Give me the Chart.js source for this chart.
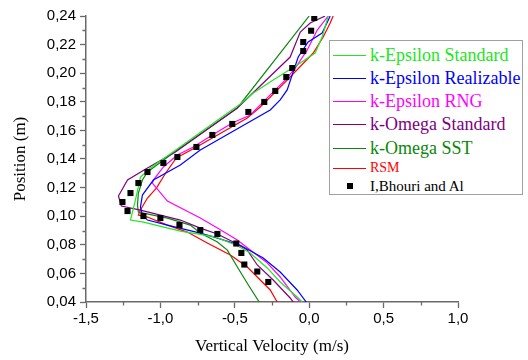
<!DOCTYPE html>
<html>
<head>
<meta charset="utf-8">
<script src="https://cdn.jsdelivr.net/npm/chart.js@4.4.0/dist/chart.umd.min.js"></script>
<style>
  html, body { margin: 0; padding: 0; background: #fff; }
  #wrap { position: relative; width: 528px; height: 360px; }
  #legend {
    position: absolute; left: 329px; top: 40px; width: 194px; height: 155px;
    box-sizing: border-box; border: 1px solid #a0a0a0; background: #fff;
    font-family: "Liberation Serif", "Times New Roman", serif; overflow: hidden;
  }
  .row { position: absolute; left: 0; display: flex; align-items: center; white-space: nowrap; }
  .swatch { width: 33px; margin: 0 4px 0 3px; border-top: 1px solid; }
  .mark { width: 33px; margin: 0 4px 0 3px; display: flex; justify-content: center; }
  .mark i { display: block; width: 6px; height: 6px; background: #000; }
</style>
</head>
<body>
<div id="wrap">
  <canvas id="chart" width="528" height="360"></canvas>
  <div id="legend"></div>
</div>
<script>
// tick labels
const xTicks = [-1.5, -1.0, -0.5, 0.0, 0.5, 1.0];
const yTicks = [0.04, 0.06, 0.08, 0.10, 0.12, 0.14, 0.16, 0.18, 0.20, 0.22, 0.24];

// series: [vertical velocity (m/s), position (m)]
const kEpsilonStandard = [
  [0.128, 0.240], [0.087, 0.2253], [0.040, 0.2141], [-0.060, 0.2071], [-0.242, 0.1952],
  [-0.376, 0.1862], [-0.463, 0.1785], [-1.067, 0.1337], [-1.134, 0.1274], [-1.168, 0.1113],
  [-1.201, 0.0973], [-1.114, 0.0959], [-0.866, 0.0896], [-0.631, 0.0855], [-0.490, 0.0797],
  [-0.396, 0.0743], [-0.282, 0.0638], [-0.195, 0.0540], [-0.081, 0.0435], [-0.047, 0.0400]
];
const kEpsilonRealizable = [
  [0.141, 0.240], [0.087, 0.2281], [-0.007, 0.2218], [-0.074, 0.2113], [-0.148, 0.1883],
  [-0.195, 0.1813], [-0.262, 0.1743], [-0.732, 0.1463], [-0.866, 0.1358], [-1.047, 0.1253],
  [-1.121, 0.1148], [-1.134, 0.1064], [-1.121, 0.1008], [-1.087, 0.0973], [-0.953, 0.0938],
  [-0.732, 0.0882], [-0.644, 0.0855], [-0.463, 0.0797], [-0.309, 0.0708], [-0.195, 0.0610],
  [-0.081, 0.0484], [-0.020, 0.0400]
];
const kEpsilonRNG = [
  [0.128, 0.240], [0.054, 0.2302], [-0.013, 0.2162], [-0.094, 0.2036], [-0.161, 0.1952],
  [-0.262, 0.1848], [-0.349, 0.1757], [-0.396, 0.1708], [-0.517, 0.1652], [-0.651, 0.1568],
  [-0.779, 0.1484], [-0.886, 0.1428], [-0.980, 0.1344], [-1.047, 0.1253], [-1.054, 0.1232],
  [-0.953, 0.1106], [-0.732, 0.0987], [-0.617, 0.0917], [-0.483, 0.0834], [-0.416, 0.0780],
  [-0.289, 0.0680], [-0.195, 0.0575], [-0.094, 0.0435], [-0.060, 0.0400]
];
const kOmegaStandard = [
  [0.107, 0.240], [0.007, 0.2351], [-0.060, 0.2288], [-0.128, 0.2113], [-0.483, 0.1757],
  [-0.899, 0.1449], [-1.087, 0.1337], [-1.221, 0.1253], [-1.282, 0.1141], [-1.262, 0.1071],
  [-1.134, 0.1043], [-0.866, 0.0973], [-0.732, 0.0917], [-0.617, 0.0876], [-0.510, 0.0820],
  [-0.416, 0.0763], [-0.349, 0.0659], [-0.242, 0.0554], [-0.128, 0.0428], [-0.107, 0.0400]
];
const kOmegaSST = [
  [0.000, 0.240], [-0.483, 0.1757], [-0.933, 0.1428], [-1.087, 0.1309], [-1.121, 0.1253],
  [-1.148, 0.1162], [-1.154, 0.1078], [-1.148, 0.1029], [-1.114, 0.1022], [-0.953, 0.0987],
  [-0.799, 0.0938], [-0.732, 0.0882], [-0.617, 0.0820], [-0.550, 0.0763], [-0.483, 0.0645],
  [-0.409, 0.0519], [-0.336, 0.0400]
];
const rsm = [
  [0.161, 0.240], [0.141, 0.2351], [0.094, 0.2253], [0.027, 0.2141], [-0.148, 0.1952],
  [-0.329, 0.1764], [-0.416, 0.1687], [-0.745, 0.1491], [-0.893, 0.1407], [-0.960, 0.1309],
  [-1.027, 0.1197], [-1.087, 0.1127], [-1.134, 0.1043], [-1.148, 0.1008], [-1.087, 0.0994],
  [-0.953, 0.0938], [-0.819, 0.0889], [-0.685, 0.0813], [-0.530, 0.0729], [-0.416, 0.0645],
  [-0.329, 0.0554], [-0.262, 0.0484], [-0.215, 0.0400]
];
const bhouri = [
  [0.034, 0.2386], [0.013, 0.2297], [-0.040, 0.2218], [-0.040, 0.2155], [-0.114, 0.2036],
  [-0.154, 0.1973], [-0.228, 0.1876], [-0.302, 0.1799], [-0.409, 0.1729], [-0.517, 0.1645],
  [-0.651, 0.1568], [-0.758, 0.1484], [-0.886, 0.1414], [-0.980, 0.1372], [-1.087, 0.1309],
  [-1.148, 0.1232], [-1.201, 0.1162], [-1.255, 0.1099], [-1.221, 0.1036], [-1.114, 0.1001],
  [-1.000, 0.0987], [-0.872, 0.0938], [-0.732, 0.0903], [-0.617, 0.0876], [-0.490, 0.0809],
  [-0.456, 0.0743], [-0.436, 0.0662], [-0.349, 0.0613], [-0.275, 0.0540]
];

const AXIS = '#6a6a6a';
const SERIF = '"Liberation Serif", "Times New Roman", serif';
const SANS = '"Liberation Sans", Arial, sans-serif';

const models = [
  { label: 'k-Epsilon Standard', data: kEpsilonStandard, color: '#22e622', size: 18 },
  { label: 'k-Epsilon Realizable', data: kEpsilonRealizable, color: '#0000ff', size: 18 },
  { label: 'k-Epsilon RNG', data: kEpsilonRNG, color: '#ff00ff', size: 18 },
  { label: 'k-Omega Standard', data: kOmegaStandard, color: '#800080', size: 18 },
  { label: 'k-Omega SST', data: kOmegaSST, color: '#0a870a', size: 18 },
  { label: 'RSM', data: rsm, color: '#ff0000', size: 14 }
];

function toXY(arr) { return arr.map(p => ({ x: p[0], y: p[1] })); }

const datasets = [{
  label: 'I,Bhouri and Al',
  data: toXY(bhouri),
  showLine: false,
  pointStyle: 'rect',
  pointRadius: 4.3,
  backgroundColor: '#000',
  borderColor: '#000',
  borderWidth: 0,
  order: 0
}].concat(models.map(m => ({
  label: m.label,
  data: toXY(m.data),
  showLine: true,
  borderColor: m.color,
  borderWidth: 1.2,
  pointRadius: 0,
  tension: 0,
  order: 1
})));

// short minor ticks between the major ones
const minorTicks = {
  id: 'minorTicks',
  afterDraw(chart) {
    const { ctx, chartArea, scales: { x, y } } = chart;
    ctx.save();
    ctx.strokeStyle = AXIS;
    ctx.lineWidth = 1.3;
    ctx.beginPath();
    for (let i = 0; i < xTicks.length - 1; i++) {
      const px = Math.round(x.getPixelForValue((xTicks[i] + xTicks[i + 1]) / 2)) + 0.5;
      ctx.moveTo(px, chartArea.bottom);
      ctx.lineTo(px, chartArea.bottom + 3.5);
    }
    for (let i = 0; i < yTicks.length - 1; i++) {
      const py = Math.round(y.getPixelForValue((yTicks[i] + yTicks[i + 1]) / 2)) + 0.5;
      ctx.moveTo(chartArea.left, py);
      ctx.lineTo(chartArea.left - 3.5, py);
    }
    ctx.stroke();
    ctx.restore();
  }
};

new Chart(document.getElementById('chart'), {
  type: 'scatter',
  data: { datasets },
  plugins: [minorTicks],
  options: {
    responsive: false,
    animation: false,
    layout: { padding: { left: 0, right: 70, top: 16, bottom: 0 } },
    plugins: { legend: { display: false }, tooltip: { enabled: false } },
    scales: {
      x: {
        type: 'linear',
        min: -1.5,
        max: 1.0,
        afterFit: s => { s.height = 58; },
        afterBuildTicks: s => { s.ticks = xTicks.map(v => ({ value: v })); },
        border: { display: true, color: AXIS, width: 1.5 },
        grid: { drawOnChartArea: false, drawTicks: true, tickLength: 6, tickColor: AXIS, tickWidth: 1.3 },
        ticks: {
          color: '#000', padding: 2,
          font: { family: SANS, size: 15 },
          callback: v => v.toFixed(1).replace('.', ',')
        },
        title: {
          display: true, text: 'Vertical Velocity (m/s)', color: '#000',
          font: { family: SERIF, size: 17 }, padding: { top: 0, bottom: 3 }
        }
      },
      y: {
        type: 'linear',
        min: 0.04,
        max: 0.24,
        afterFit: s => { s.width = 86; },
        afterBuildTicks: s => { s.ticks = yTicks.map(v => ({ value: v })); },
        border: { display: true, color: AXIS, width: 1.5 },
        grid: { drawOnChartArea: false, drawTicks: true, tickLength: 6, tickColor: AXIS, tickWidth: 1.3 },
        ticks: {
          color: '#000', padding: 4,
          font: { family: SANS, size: 15 },
          callback: v => v.toFixed(2).replace('.', ',')
        },
        title: {
          display: true, text: 'Position (m)', color: '#000',
          font: { family: SERIF, size: 17 }, padding: { top: 10, bottom: 0 }
        }
      }
    }
  }
});

// legend box drawn as html, inside the plot
const legend = document.getElementById('legend');
const rowCenters = [14, 37, 60, 83, 107, 127, 145];
models.concat([{ label: 'I,Bhouri and Al', color: '#000', size: 15, marker: true }]).forEach((m, i) => {
  const row = document.createElement('div');
  row.className = 'row';
  row.style.top = (rowCenters[i] - 12) + 'px';
  row.style.height = '24px';
  const sw = document.createElement('span');
  if (m.marker) {
    sw.className = 'mark';
    sw.appendChild(document.createElement('i'));
  } else {
    sw.className = 'swatch';
    sw.style.borderTopColor = m.color;
  }
  const txt = document.createElement('span');
  txt.textContent = m.label;
  txt.style.color = m.color;
  txt.style.fontSize = m.size + 'px';
  row.appendChild(sw);
  row.appendChild(txt);
  legend.appendChild(row);
});
</script>
</body>
</html>
